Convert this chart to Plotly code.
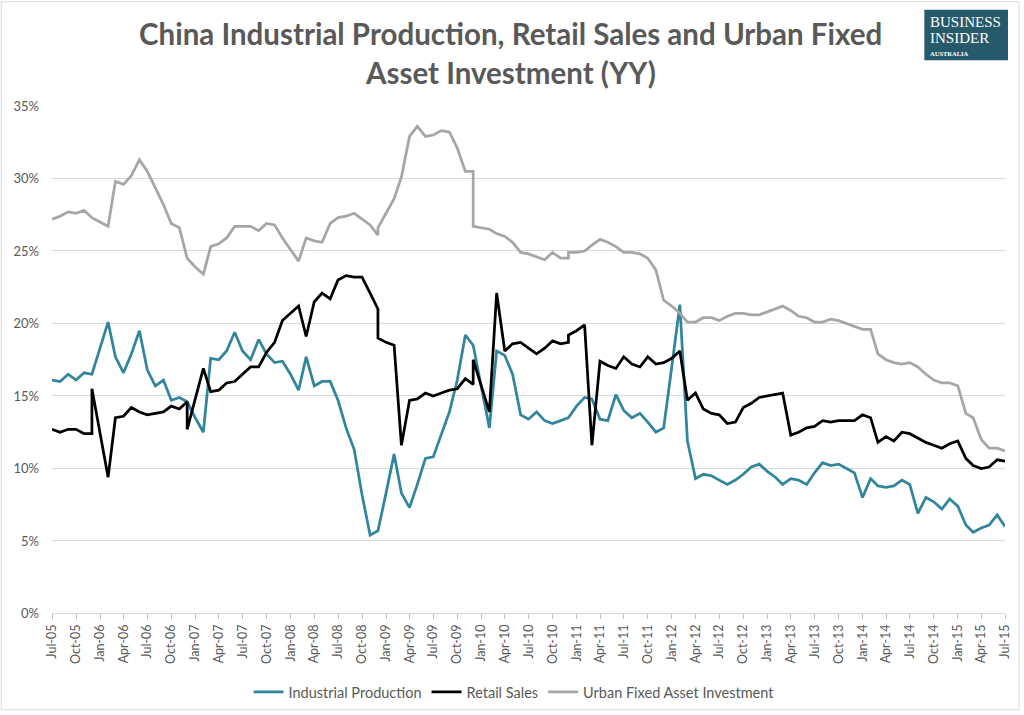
import plotly.graph_objects as go
import pandas as pd

# ---------------- data (YoY %, monthly Jul-05 .. Jul-15) ----------------
start_month = "2005-07-01"
end_month = "2015-07-01"
months = list(pd.date_range(start_month, end_month, freq="MS"))

# an entry given as [a, b] means two readings plotted at the same month (vertical step)
industrial_production = [
    16.1, 16.0, 16.5, 16.1, 16.6, 16.5, 18.3, 20.1, 17.7, 16.6, 17.9, 19.5,
    16.8, 15.7, 16.1, 14.7, 14.9, 14.6, 13.5, 12.5, 17.6, 17.5, 18.1, 19.4,
    18.1, 17.5, 18.9, 17.9, 17.3, 17.4, 16.5, 15.4, 17.7, 15.7, 16.0, 16.0,
    14.7, 12.8, 11.3, 8.2, 5.4, 5.7, 8.3, 11.0, 8.3, 7.3, 8.9, 10.7,
    10.8, 12.3, 13.9, 16.1, 19.2, 18.5, 15.6, 12.8, 18.1, 17.8, 16.5, 13.7,
    13.4, 13.9, 13.3, 13.1, 13.3, 13.5, 14.3, 14.9, 14.8, 13.4, 13.3, 15.1,
    14.0, 13.5, 13.8, 13.2, 12.5, 12.8, 17.0, 21.3, 11.9, 9.3, 9.6, 9.5,
    9.2, 8.9, 9.2, 9.6, 10.1, 10.3, 9.8, 9.4, 8.9, 9.3, 9.2, 8.9,
    9.7, 10.4, 10.2, 10.3, 10.0, 9.7, 8.0, 9.3, 8.8, 8.7, 8.8, 9.2,
    8.9, 6.9, 8.0, 7.7, 7.2, 7.9, 7.4, 6.1, 5.6, 5.9, 6.1, 6.8,
    6.0,
]

retail_sales = [
    12.7, 12.5, 12.7, 12.7, 12.4, [12.4, 15.5], 12.5, 9.4, 13.5, 13.6, 14.2, 13.9,
    13.7, 13.8, 13.9, 14.3, 14.1, [14.6, 12.7], 14.8, 16.9, 15.3, 15.4, 15.9, 16.0,
    16.5, 17.0, 17.0, 18.0, 18.7, 20.2, 20.7, 21.2, 19.1, 21.5, 22.1, 21.7,
    23.0, 23.3, 23.2, 23.2, 22.1, [21.0, 19.0], 18.7, 18.5, 11.6, 14.7, 14.8, 15.2,
    15.0, 15.2, 15.4, 15.5, 16.2, [15.8, 17.5], 15.7, 13.9, 22.1, 18.1, 18.6, 18.7,
    18.3, 17.9, 18.3, 18.8, 18.6, [18.7, 19.2], 19.5, 19.9, 11.6, 17.4, 17.1, 16.9,
    17.7, 17.2, 17.0, 17.7, 17.2, 17.3, 17.6, 18.1, 14.7, 15.2, 14.1, 13.8,
    13.7, 13.1, 13.2, 14.2, 14.5, 14.9, 15.0, 15.1, 15.2, 12.3, 12.5, 12.8,
    12.9, 13.3, 13.2, 13.3, 13.3, 13.3, 13.7, 13.5, 11.8, 12.2, 11.9, 12.5,
    12.4, 12.1, 11.8, 11.6, 11.4, 11.7, 11.9, 10.7, 10.2, 10.0, 10.1, 10.6,
    10.5,
]

urban_fai = [
    27.2, 27.4, 27.7, 27.6, 27.8, 27.3, 27.0, 26.7, 29.8, 29.6, 30.2, 31.3,
    30.5, 29.3, 28.2, 26.9, 26.6, 24.5, 23.9, 23.4, 25.3, 25.5, 25.9, 26.7,
    26.7, 26.7, 26.4, 26.9, 26.8, 25.9, 25.1, 24.3, 25.9, 25.7, 25.6, 26.9,
    27.3, 27.4, 27.6, 27.2, 26.8, [26.1, 26.6], 27.6, 28.6, 30.1, 32.9, 33.6, 32.9,
    33.0, 33.3, 33.2, 32.1, 30.5, [30.5, 26.7], 26.6, 26.5, 26.2, 26.0, 25.6, 24.9,
    24.8, 24.6, 24.4, 24.9, 24.5, [24.5, 24.9], 24.9, 25.0, 25.4, 25.8, 25.6, 25.3,
    24.9, 24.9, 24.8, 24.5, 23.7, 21.6, 21.2, 20.7, 20.1, 20.1, 20.4, 20.4,
    20.2, 20.5, 20.7, 20.7, 20.6, 20.6, 20.8, 21.0, 21.2, 20.9, 20.5, 20.4,
    20.1, 20.1, 20.3, 20.2, 20.0, 19.8, 19.6, 19.6, 17.9, 17.5, 17.3, 17.2,
    17.3, 17.0, 16.5, 16.1, 15.9, 15.9, 15.7, 13.8, 13.5, 12.0, 11.4, 11.4,
    11.2,
]

series_names = ["Industrial Production", "Retail Sales", "Urban Fixed Asset Investment"]
series_values = [industrial_production, retail_sales, urban_fai]
series_colors = ["#31859C", "#000000", "#A6A6A6"]

y_ticks = [0, 5, 10, 15, 20, 25, 30, 35]
y_tick_labels = [f"{v}%" for v in y_ticks]

title_line1 = "China Industrial Production, Retail Sales and Urban Fixed"
title_line2 = "Asset Investment (YY)"


def expand(vals):
    xs, ys = [], []
    for d, v in zip(months, vals):
        if isinstance(v, (list, tuple)):
            for vv in v:
                xs.append(d)
                ys.append(vv)
        else:
            xs.append(d)
            ys.append(v)
    return xs, ys


# ---------------- layout geometry ----------------
W, H = 1024, 715
ML, MR, MT, MB = 52, 15, 106, 98
PW, PH = W - ML - MR, H - MT - MB


def px(xp):
    return (xp - ML) / PW


def py(yp):
    return (H - MB - yp) / PH


FONT = "Lato, 'Open Sans', Arial, sans-serif"
TXT = "#595959"

fig = go.Figure()
for name, vals, col in zip(series_names, series_values, series_colors):
    xs, ys = expand(vals)
    fig.add_trace(go.Scatter(
        x=xs, y=ys, mode="lines", name=name,
        line=dict(color=col, width=2.75),
    ))

fig.update_layout(
    width=W, height=H,
    margin=dict(l=ML, r=MR, t=MT, b=MB),
    paper_bgcolor="white", plot_bgcolor="white",
    font=dict(family=FONT, color=TXT, size=13),
    showlegend=True,
    legend=dict(
        orientation="h", xref="container", yref="container",
        x=0.502, xanchor="center", y=(H - 692) / H, yanchor="middle",
        font=dict(size=14.5, color=TXT), itemwidth=30,
    ),
    xaxis=dict(
        type="date",
        range=[start_month, end_month],
        tick0=start_month, dtick="M3", tickformat="%b-%y",
        tickangle=-90, ticks="outside", ticklen=5, tickcolor="#BFBFBF",
        showline=True, linecolor="#D9D9D9", linewidth=1,
        showgrid=False, zeroline=False,
        tickfont=dict(size=12.5, color=TXT),
    ),
    yaxis=dict(
        range=[0, 35], tickvals=y_ticks, ticktext=y_tick_labels,
        showgrid=True, gridcolor="#D9D9D9", gridwidth=1,
        showline=False, zeroline=False, ticks="",
        ticklabelstandoff=12,
        tickfont=dict(size=13, color=TXT),
    ),
)

# title (two centered lines)
for txt, yp in [(title_line1, 33), (title_line2, 72)]:
    fig.add_annotation(
        text=txt, xref="paper", yref="paper",
        x=px(512), y=py(yp), xanchor="center", yanchor="middle",
        showarrow=False,
        font=dict(family=FONT, size=29.5, color=TXT, weight="bold"),
    )

# outer chart border
fig.add_shape(type="rect", xref="paper", yref="paper",
              x0=px(1), x1=px(1023), y0=py(714), y1=py(1),
              line=dict(color="#D9D9D9", width=1), fillcolor="rgba(0,0,0,0)", layer="below")

# Business Insider Australia badge
fig.add_shape(type="rect", xref="paper", yref="paper",
              x0=px(928), x1=px(1012), y0=py(60), y1=py(9),
              line=dict(width=0), fillcolor="#265A6B")
for txt, yp, sz in [("BUSINESS", 21, 15), ("INSIDER", 38, 15), ("AUSTRALIA", 53, 6.5)]:
    fig.add_annotation(
        text=txt, xref="paper", yref="paper",
        x=px(932), y=py(yp), xanchor="left", yanchor="middle",
        showarrow=False,
        font=dict(family="'Liberation Serif', 'DejaVu Serif', serif", size=sz,
                  color="white", weight="bold" if sz < 10 else "normal"),
    )

# the page's default body margin would offset the figure by 8px; remove it and any scrollbars
fig.write_html(
    "out.html", config={"displayModeBar": False},
    post_script=(
        "document.body.style.margin='0px';"
        "document.body.style.overflow='hidden';"
        "document.documentElement.style.overflow='hidden';"
    ),
)
